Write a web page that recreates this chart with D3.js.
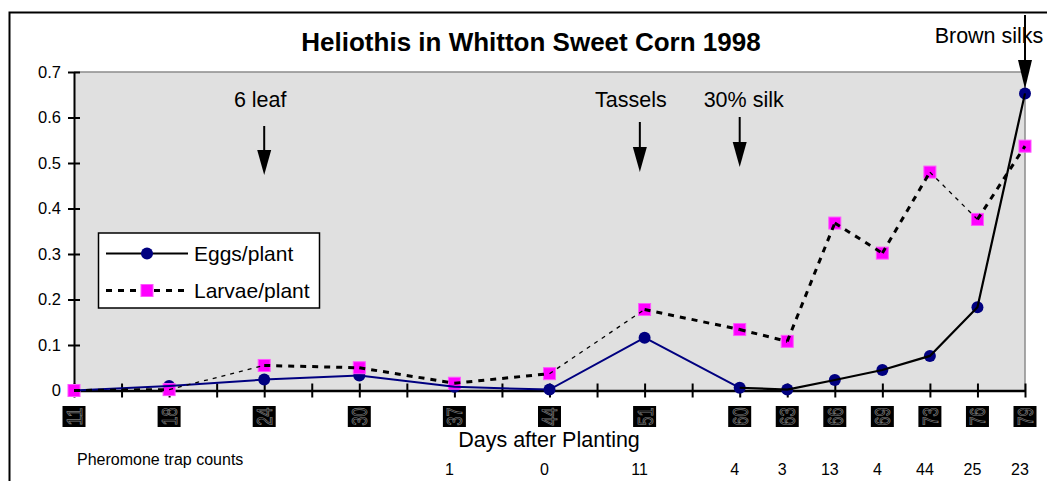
<!DOCTYPE html>
<html>
<head>
<meta charset="utf-8">
<script src="https://cdn.jsdelivr.net/npm/d3@7"></script>
<style>
  html, body { margin: 0; padding: 0; background: #fff; }
  svg { display: block; font-family: "Liberation Sans", Arial, sans-serif; }
</style>
</head>
<body>
<svg id="chart" width="1047" height="481"></svg>
<script>
// ---- data ----
const title = "Heliothis in Whitton Sweet Corn 1998";
// category slots along the x axis (empty strings are unlabeled slots)
const dayLabels = ["11","","18","","24","","30","","37","","44","","51","","60","63","66","69","73","76","79"];
const eggs   = [0, null, 0.010, null, 0.024, null, 0.033, null, 0.008, null, 0.002, null, 0.116, null, 0.006, 0.002, 0.023, 0.045, 0.076, 0.183, 0.653];
const larvae = [0, null, 0.002, null, 0.055, null, 0.050, null, 0.016, null, 0.037, null, 0.178, null, 0.134, 0.108, 0.368, 0.302, 0.480, 0.376, 0.537];
const pheromone = [null, null, null, null, null, null, null, null, 1, null, 0, null, 11, null, 4, 3, 13, 4, 44, 25, 23];
const yTicks = [0, 0.1, 0.2, 0.3, 0.4, 0.5, 0.6, 0.7];
const seriesNames = ["Eggs/plant", "Larvae/plant"];
const annotationLabels = ["6 leaf", "Tassels", "30% silk", "Brown silks"];
const annotationSlots  = [4, 11.9, 14, 20];

// ---- layout ----
const svg = d3.select("#chart");
const plot = { left: 74, right: 1025, top: 72, bottom: 390.5 };
const x = d3.scaleLinear().domain([0, dayLabels.length - 1]).range([plot.left, plot.right]);
const y = d3.scaleLinear().domain([0, 0.7]).range([plot.bottom, plot.top]);

// outer frame (left and top edges visible)
svg.append("path").attr("d", "M9.5,481 L9.5,12.5 L1047,12.5")
  .attr("fill", "none").attr("stroke", "#000").attr("stroke-width", 2);

// plot area
svg.append("rect").attr("x", plot.left).attr("y", plot.top)
  .attr("width", plot.right - plot.left).attr("height", plot.bottom - plot.top)
  .attr("fill", "#e0e0e0");
svg.append("path")
  .attr("d", `M${plot.left},${plot.top} L${plot.right},${plot.top} L${plot.right},${plot.bottom}`)
  .attr("fill", "none").attr("stroke", "#8c8c8c").attr("stroke-width", 1.5);

// title
svg.append("text").attr("x", 531).attr("y", 51).attr("text-anchor", "middle")
  .attr("font-size", 26).attr("font-weight", "bold").text(title);

// y axis
const yAxis = d3.axisLeft(y).tickValues(yTicks).tickSizeInner(6).tickSizeOuter(0)
  .tickFormat(d => d === 0 ? "0" : d3.format(".1f")(d));
const gy = svg.append("g").attr("transform", `translate(${plot.left},0)`).call(yAxis);
gy.select(".domain").attr("stroke", "#000").attr("stroke-width", 2);
gy.selectAll(".tick line").attr("x1", -6).attr("x2", 6).attr("stroke", "#000").attr("stroke-width", 2);
gy.selectAll(".tick text").attr("x", -13).attr("font-size", 16.5)
  .attr("font-family", "Liberation Sans, Arial, sans-serif").attr("fill", "#000");

// x axis
const idx = d3.range(dayLabels.length);
const xAxis = d3.axisBottom(x).tickValues(idx).tickSizeInner(6).tickSizeOuter(0).tickFormat("");
const gx = svg.append("g").attr("transform", `translate(0,${plot.bottom})`).call(xAxis);
gx.select(".domain").attr("stroke", "#000").attr("stroke-width", 2.5);
gx.selectAll(".tick line").attr("y1", -7).attr("y2", 7).attr("stroke", "#000").attr("stroke-width", 2);

// x category labels (rotated digits on dark boxes)
const labelled = idx.filter(i => dayLabels[i] !== "");
const lab = svg.append("g").selectAll("g").data(labelled).join("g")
  .attr("transform", i => `translate(${x(i)},416.5)`);
lab.append("rect").attr("x", -11.5).attr("y", -10.5).attr("width", 23).attr("height", 21).attr("fill", "#000");
lab.append("text").attr("transform", "rotate(-90)")
  .attr("text-anchor", "middle").attr("dy", "0.36em")
  .attr("font-size", 22).attr("textLength", 18).attr("lengthAdjust", "spacingAndGlyphs")
  .attr("fill", "#000").attr("stroke", "#7a7a7a").attr("stroke-width", 0.8)
  .text(i => dayLabels[i]);

// axis title
svg.append("text").attr("x", 549).attr("y", 447).attr("text-anchor", "middle")
  .attr("font-size", 21.5).text("Days after Planting");

// pheromone row
svg.append("text").attr("x", 77).attr("y", 465).attr("font-size", 16).text("Pheromone trap counts");
svg.append("g").selectAll("text").data(idx.filter(i => pheromone[i] !== null)).join("text")
  .attr("x", i => x(i) - 5).attr("y", 475).attr("text-anchor", "middle")
  .attr("font-size", 16).text(i => pheromone[i]);

// series points
const eggPts = idx.filter(i => eggs[i] !== null).map(i => [x(i), y(eggs[i])]);
const larPts = idx.filter(i => larvae[i] !== null).map(i => [x(i), y(larvae[i])]);
const line = d3.line();

// markers
svg.append("g").selectAll("circle").data(eggPts).join("circle")
  .attr("cx", d => d[0]).attr("cy", d => d[1]).attr("r", 6).attr("fill", "#000080");
svg.append("g").selectAll("rect").data(larPts).join("rect")
  .attr("x", d => d[0] - 6).attr("y", d => d[1] - 6).attr("width", 12).attr("height", 12)
  .attr("fill", "#ff00ff").attr("stroke", "#ff55ff").attr("stroke-width", 1);

// eggs line: navy up to the 60-day point, black afterwards
const eggBreak = eggPts.findIndex(p => Math.abs(p[0] - x(14)) < 0.5);
svg.append("path").attr("d", line(eggPts.slice(0, eggBreak + 1)))
  .attr("fill", "none").attr("stroke", "#000080").attr("stroke-width", 2);
svg.append("path").attr("d", line(eggPts.slice(eggBreak)))
  .attr("fill", "none").attr("stroke", "#000").attr("stroke-width", 2.2);

// larvae line: thick dotted, with a few thin dashed segments
const thinSeg = new Set([1, 5, 11]);
for (let k = 0; k < larPts.length - 1; k++) {
  const thin = thinSeg.has(k);
  svg.append("path").attr("d", line([larPts[k], larPts[k + 1]]))
    .attr("fill", "none").attr("stroke", "#000")
    .attr("stroke-width", thin ? 1.3 : 3)
    .attr("stroke-dasharray", thin ? "4,5" : "6,6");
}

// legend
const lg = svg.append("g");
lg.append("rect").attr("x", 98.5).attr("y", 233).attr("width", 221).attr("height", 75)
  .attr("fill", "#fff").attr("stroke", "#000").attr("stroke-width", 1.5);
lg.append("line").attr("x1", 106).attr("x2", 188).attr("y1", 253.5).attr("y2", 253.5)
  .attr("stroke", "#000").attr("stroke-width", 2);
lg.append("circle").attr("cx", 147).attr("cy", 253.5).attr("r", 6).attr("fill", "#000080");
lg.append("text").attr("x", 194).attr("y", 261).attr("font-size", 21).text(seriesNames[0]);
lg.append("line").attr("x1", 106).attr("x2", 188).attr("y1", 290.5).attr("y2", 290.5)
  .attr("stroke", "#000").attr("stroke-width", 3).attr("stroke-dasharray", "6,6");
lg.append("rect").attr("x", 141).attr("y", 284.5).attr("width", 12).attr("height", 12)
  .attr("fill", "#ff00ff").attr("stroke", "#ff55ff");
lg.append("text").attr("x", 194).attr("y", 298).attr("font-size", 21).text(seriesNames[1]);

// annotations with arrows
const annLayout = [
  { dx: -4, textY: 107, top: 126, head: 150, tip: 175 },
  { dx: -9, textY: 107, top: 122, head: 147, tip: 172 },
  { dx: 4,  textY: 107, top: 117, head: 142, tip: 167 },
  { dx: -36, textY: 43, top: 15, head: 60, tip: 89 }
];
annotationLabels.forEach((t, k) => {
  const ax = x(annotationSlots[k]);
  const L = annLayout[k];
  svg.append("text").attr("x", ax + L.dx).attr("y", L.textY).attr("text-anchor", "middle")
    .attr("font-size", 21.5).text(t);
  svg.append("line").attr("x1", ax).attr("x2", ax).attr("y1", L.top).attr("y2", L.head + 2)
    .attr("stroke", "#000").attr("stroke-width", 2);
  svg.append("path").attr("d", `M${ax - 7},${L.head} L${ax + 7},${L.head} L${ax},${L.tip} Z`).attr("fill", "#000");
});
</script>
</body>
</html>
